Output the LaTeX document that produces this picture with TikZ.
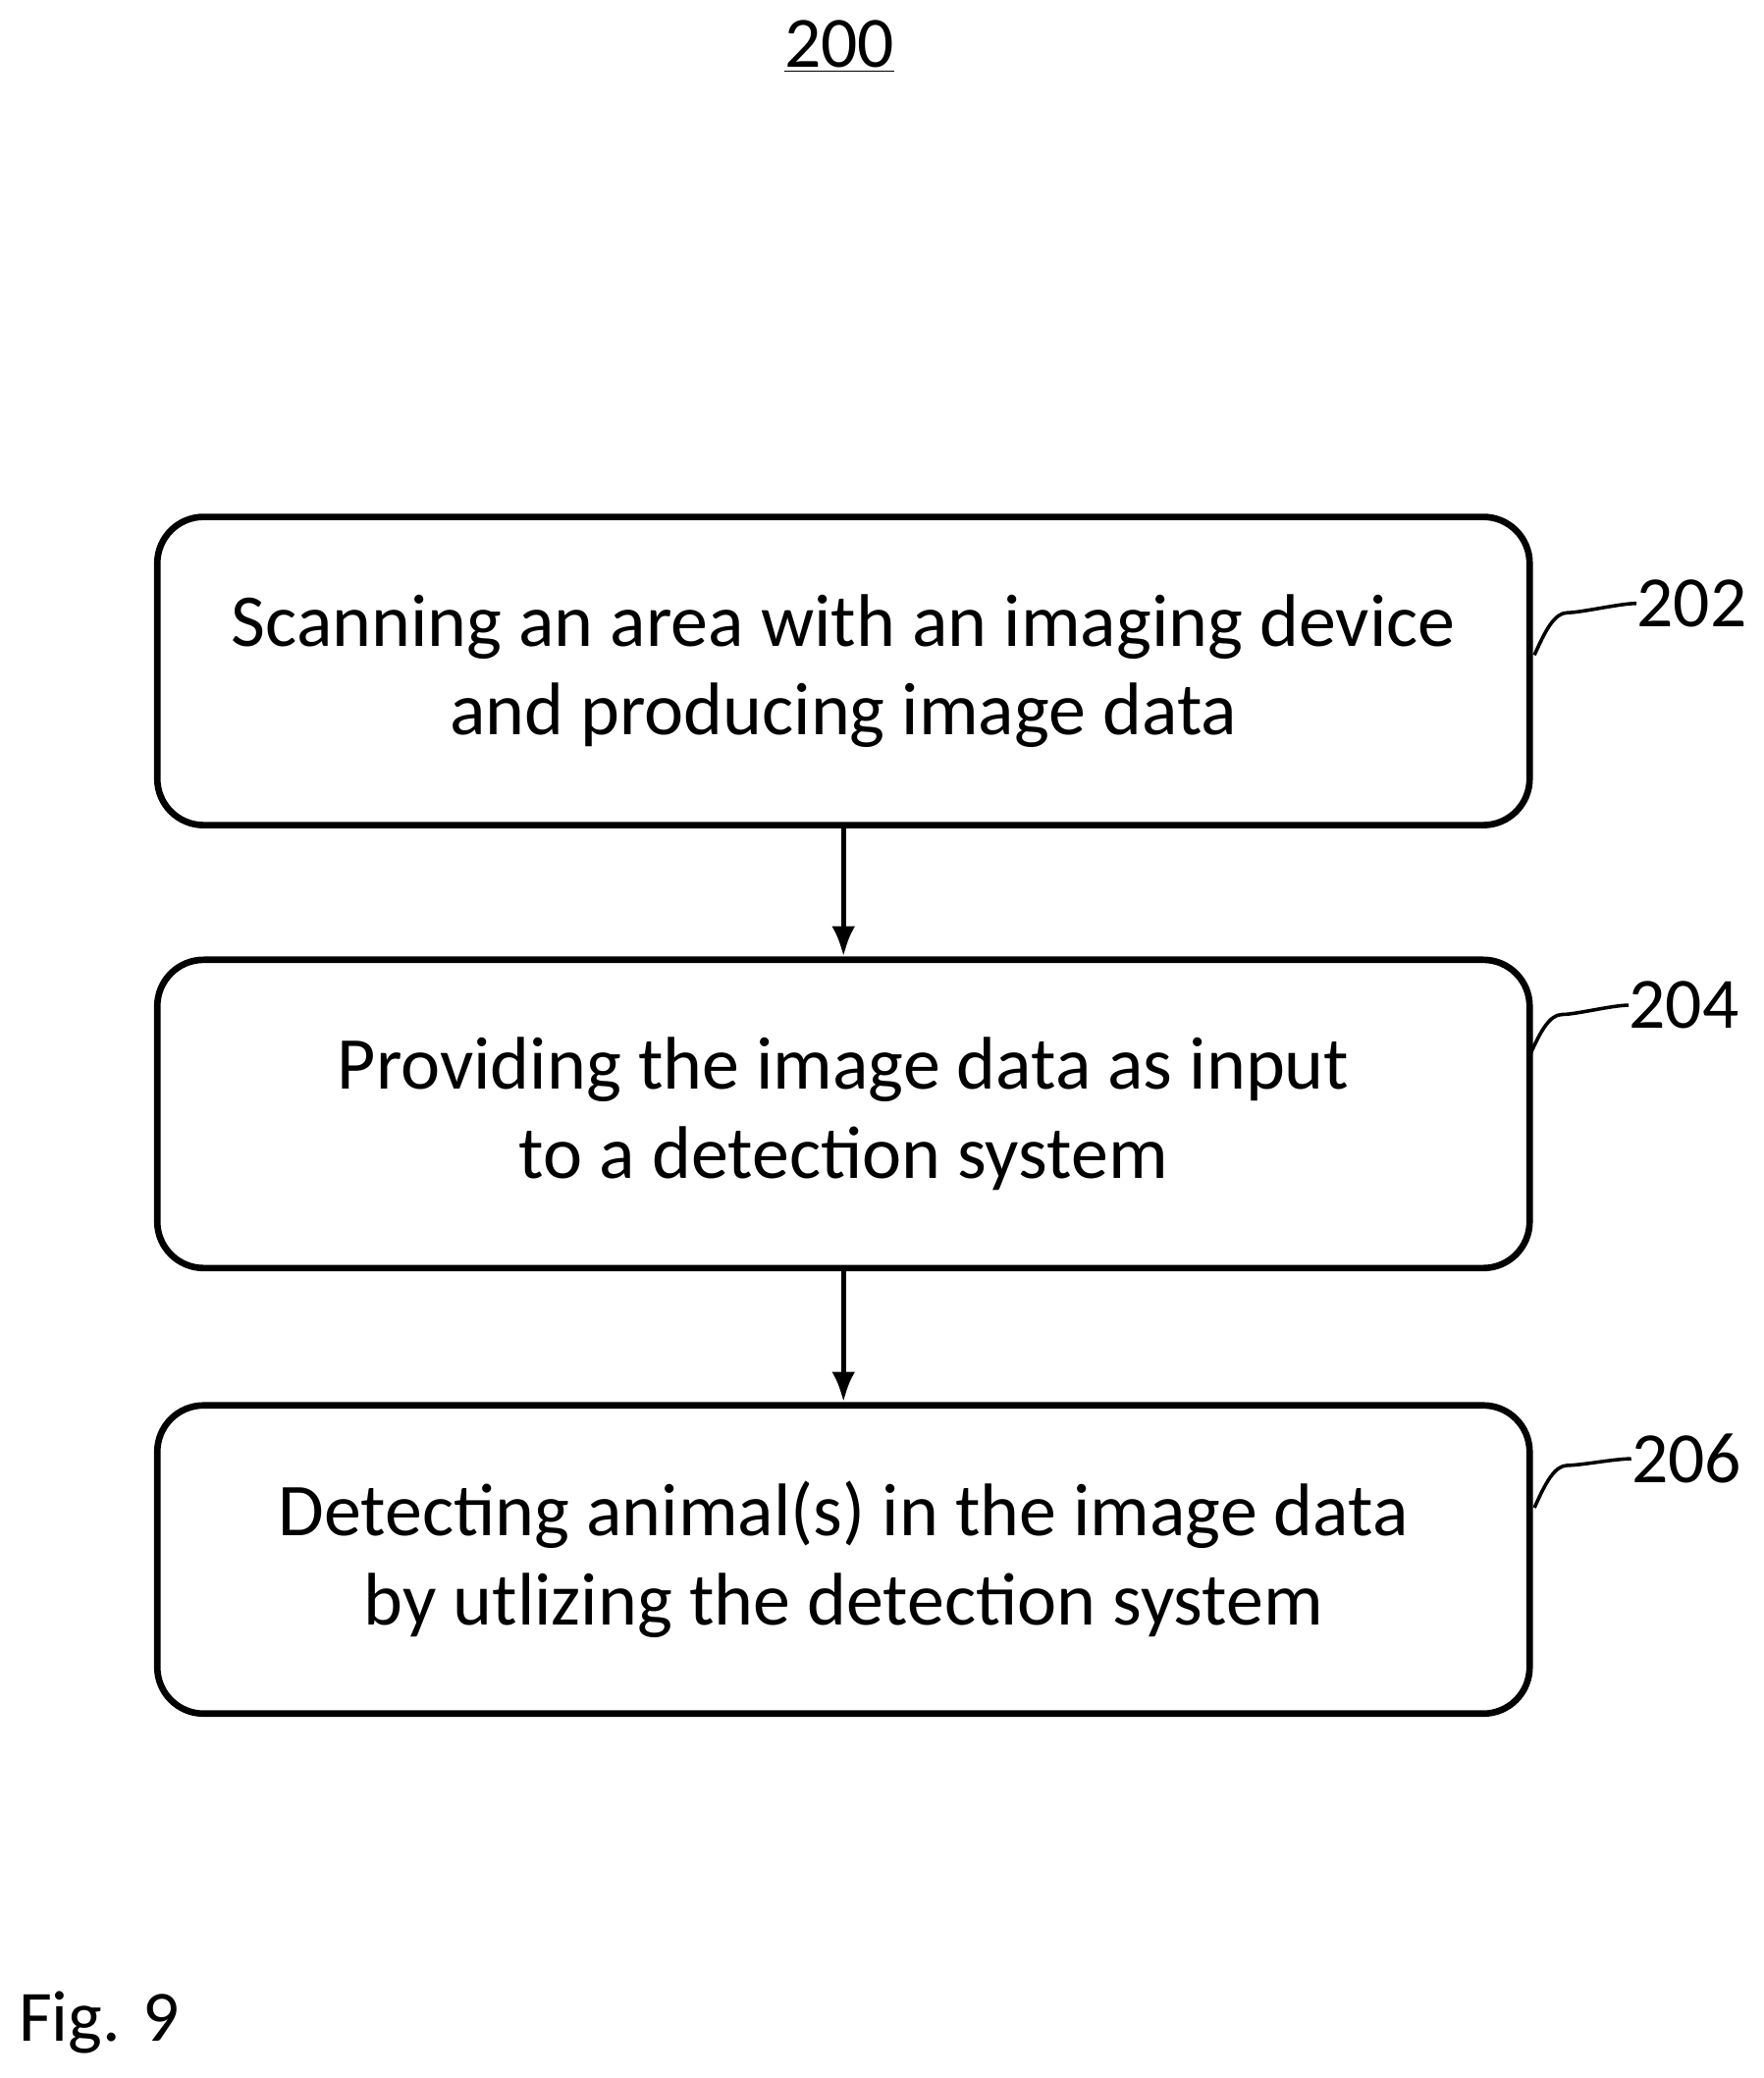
\documentclass[tikz,border=0pt]{standalone}
\usepackage{fontspec}
\setmainfont{Carlito}
\usetikzlibrary{positioning,arrows.meta}
\begin{document}
\begin{tikzpicture}[x=0.02cm,y=-0.02cm]
    \tikzset{stepbox/.style={draw,line width=2.8pt,rounded corners=0.7cm,minimum width=20.7cm,minimum height=4.65cm,align=center,font=\fontsize{32}{38}\selectfont},
             ref/.style={font=\fontsize{31}{36}\selectfont,anchor=west,inner sep=0pt},
             flow/.style={line width=2.2pt,-{Latex[length=13pt,width=10pt]}},
             lead/.style={line width=1.5pt}}
    \useasboundingbox (0,0) rectangle (1330,1567);
    \node (title) at (633,35) {\fontsize{31}{36}\selectfont\underline{200}};
    \node[stepbox] (scan) at (636,506) {Scanning an area with an imaging device\\and producing image data};
    \node[stepbox] (prov) at (636,840) {Providing the image data as input\\to a detection system};
    \node[stepbox] (detect) at (636,1176) {Detecting animal(s) in the image data\\by utlizing the detection system};
    \draw[flow] (scan) -- (prov);
    \draw[flow] (prov) -- (detect);
    % reference numerals
    \node[ref] (n202) at (1234,455) {202};
    \node[ref] (n204) at (1228,758) {204};
    \node[ref] (n206) at (1230,1100) {206};
    \coordinate (s202) at (1157,494);
    \coordinate (s204) at (1153,797);
    \coordinate (s206) at (1157,1137);
    \foreach \s/\n in {s202/n202,s204/n204,s206/n206}
        \draw[lead] (\s) .. controls +(8,-18) and +(-10,0) .. ++(25,-32) .. controls +(10,0) and +(-12,0) .. (\n.west);
    \node[anchor=west] (fig) at (8,1525) {\fontsize{31}{36}\selectfont Fig. 9};
\end{tikzpicture}
\end{document}
